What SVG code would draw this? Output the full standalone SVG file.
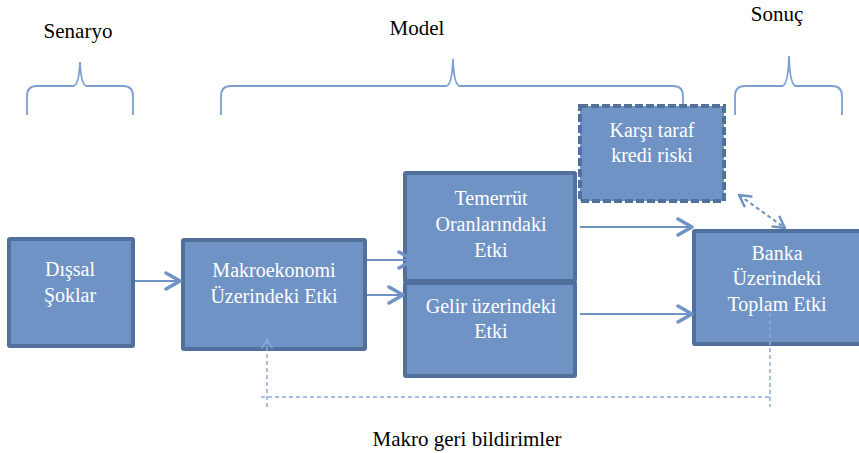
<svg xmlns="http://www.w3.org/2000/svg" width="859" height="453" viewBox="0 0 859 453">
<style>
.box{fill:#7093c6;stroke:#52709c;stroke-width:4}
.dbox{fill:#7093c6;stroke:#52709c;stroke-width:4;stroke-dasharray:8 3}
text{font-family:'Liberation Serif','DejaVu Serif',serif}
.wt{font-size:20px;fill:#ffffff;text-anchor:middle}
.bt{font-size:21px;fill:#000000;text-anchor:middle}
.brace{fill:none;stroke:#7b9fd1;stroke-width:1.8}
.arr{fill:none;stroke:#7093c6;stroke-width:2}
.fb{fill:none;stroke:#8aaad8;stroke-width:1.5;stroke-dasharray:4 3}
</style>
<defs>
<marker id="ah" markerUnits="userSpaceOnUse" markerWidth="22" markerHeight="22" refX="17" refY="10" orient="auto">
<path d="M3,2 L17,10 L3,18" fill="none" stroke="#7093c6" stroke-width="3.5" stroke-linecap="round" stroke-linejoin="round"/>
</marker>
<marker id="ah2" markerUnits="userSpaceOnUse" markerWidth="18" markerHeight="18" refX="14" refY="8" orient="auto-start-reverse">
<path d="M3,2 L14,8 L3,14" fill="none" stroke="#7093c6" stroke-width="2.5" stroke-linecap="round" stroke-linejoin="round"/>
</marker>
<marker id="ah3" markerUnits="userSpaceOnUse" markerWidth="16" markerHeight="16" refX="12" refY="7" orient="auto">
<path d="M3,2 L12,7 L3,12" fill="none" stroke="#8aaad8" stroke-width="1.5" stroke-linecap="round" stroke-linejoin="round"/>
</marker>
</defs>

<g id="labels">
<text class="bt" x="78" y="38">Senaryo</text>
<text class="bt" x="417" y="35">Model</text>
<text class="bt" x="777" y="21">Sonuç</text>
<text class="bt" x="467" y="446">Makro geri bildirimler</text>
</g>

<g id="braces">
<path class="brace" d="M27,115 L27,96 Q27,86 37,86 L73,86 Q79,86 80,62 Q81,86 87,86 L123,86 Q133,86 133,96 L133,115"/>
<path class="brace" d="M221,115 L221,96 Q221,86 231,86 L446,86 Q452,86 453,59 Q454,86 460,86 L673,86 Q683,86 683,96 L683,112"/>
<path class="brace" d="M735,115 L735,96 Q735,86 745,86 L782,86 Q788,86 789,56 Q790,86 796,86 L832,86 Q842,86 842,96 L842,115"/>
</g>

<g id="n-dissal">
<rect class="box" x="9" y="239" width="124" height="107" rx="1"/>
<text class="wt" x="70" y="276">Dışsal</text>
<text class="wt" x="70" y="302">Şoklar</text>
</g>
<g id="n-makro">
<rect class="box" x="183" y="240" width="182" height="109" rx="1"/>
<text class="wt" x="274" y="277">Makroekonomi</text>
<text class="wt" x="274" y="303">Üzerindeki Etki</text>
</g>
<g id="n-temerrut">
<rect class="box" x="405" y="173" width="170" height="108" rx="1"/>
<text class="wt" x="491" y="205">Temerrüt</text>
<text class="wt" x="491" y="231">Oranlarındaki</text>
<text class="wt" x="491" y="257">Etki</text>
</g>
<g id="n-gelir">
<rect class="box" x="405" y="283" width="170" height="93" rx="1"/>
<text class="wt" x="491" y="313">Gelir üzerindeki</text>
<text class="wt" x="491" y="338">Etki</text>
</g>
<g id="n-karsi">
<rect class="dbox" x="580" y="106" width="144" height="95"/>
<text class="wt" x="652" y="137">Karşı taraf</text>
<text class="wt" x="652" y="162">kredi riski</text>
</g>
<g id="n-banka">
<rect class="box" x="694" y="231" width="170" height="113" rx="1"/>
<text class="wt" x="777" y="260">Banka</text>
<text class="wt" x="777" y="285">Üzerindeki</text>
<text class="wt" x="777" y="311">Toplam Etki</text>
</g>

<g id="connectors">
<line class="arr" x1="135" y1="281" x2="180" y2="281" marker-end="url(#ah)"/>
<line class="arr" x1="367" y1="260" x2="413" y2="260" marker-end="url(#ah)"/>
<line class="arr" x1="367" y1="295" x2="403" y2="295" marker-end="url(#ah)"/>
<line class="arr" x1="580" y1="227" x2="692" y2="227" marker-end="url(#ah)"/>
<line class="arr" x1="580" y1="314" x2="692" y2="314" marker-end="url(#ah)"/>
<line class="arr" x1="739" y1="195" x2="785" y2="228" stroke-dasharray="4 3" marker-start="url(#ah2)" marker-end="url(#ah2)"/>
<line class="fb" x1="267" y1="407" x2="267" y2="339" marker-end="url(#ah3)"/>
<line class="fb" x1="261" y1="397" x2="770" y2="397"/>
<line class="fb" x1="770" y1="313" x2="770" y2="407"/>
</g>
</svg>
